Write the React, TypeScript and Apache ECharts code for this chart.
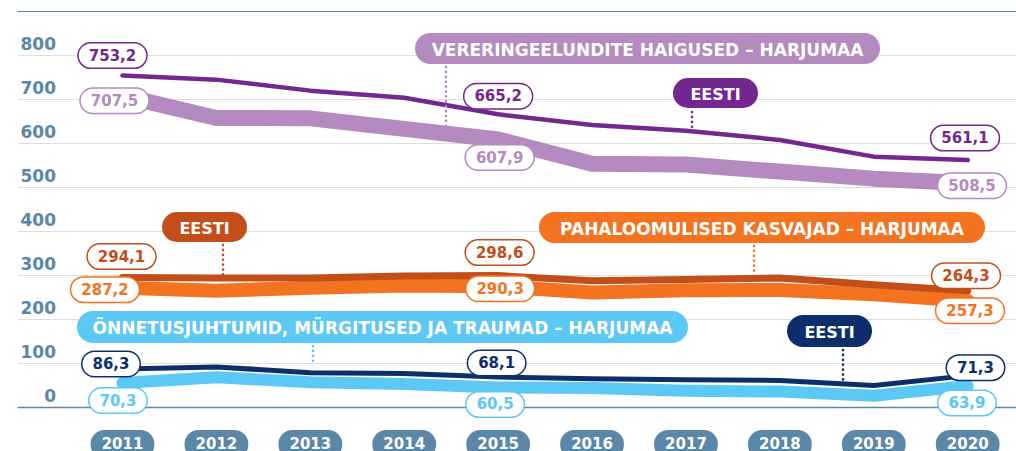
import React, { useEffect, useRef } from "react";
import * as echarts from "echarts";

const years = ["2011", "2012", "2013", "2014", "2015", "2016", "2017", "2018", "2019", "2020"];

// Vereringeelundite haigused (circulatory diseases)
const circulatoryEesti = [753.2, 744, 719, 703, 665.2, 641, 628, 607, 569, 561.1];
const circulatoryHarju = [707.5, 657, 656, 632, 607.9, 553, 551, 535, 519, 508.5];
// Pahaloomulised kasvajad (cancer)
const cancerEesti = [294.1, 293, 293, 298, 298.6, 287, 290, 293, 278, 264.3];
const cancerHarju = [287.2, 280, 287, 292, 290.3, 276, 281, 282, 272, 257.3];
// Õnnetusjuhtumid, mürgitused ja traumad (injuries)
const injuryEesti = [86.3, 91, 78, 76, 68.1, 64, 62, 60.5, 49, 71.3];
const injuryHarju = [70.3, 83.6, 72, 68, 60.5, 59, 53, 51, 41.6, 63.9];

const yMin = 0;
const yMax = 900;
const yStep = 100;

const labelledIdx = [0, 4, 9];

const FONT = "'DejaVu Sans', 'Noto Sans', sans-serif";
const AXIS_BLUE = "#5b87a9";
const GRID_GREY = "#dedede";

const C = {
  purpleDark: "#74278f",
  purpleLight: "#b48ac0",
  orangeDark: "#c24e1a",
  orange: "#f37321",
  navy: "#0c2f6b",
  lightBlue: "#5cc8f5",
};

const fmt = (v: number) => v.toFixed(1).replace(".", ",");

function withLabels(values: number[], color: string, offsets: number[][]) {
  return values.map((v, i) => {
    const k = labelledIdx.indexOf(i);
    if (k < 0) return { value: v };
    return {
      value: v,
      label: {
        show: true,
        position: "inside",
        offset: offsets[k],
        formatter: () => fmt(v),
        color,
        fontFamily: FONT,
        fontWeight: "bold",
        fontSize: 15,
        backgroundColor: "#ffffff",
        borderColor: color,
        borderWidth: 1.5,
        borderRadius: 14,
        padding: [5, 10, 4, 10],
      },
    };
  });
}

function lineSeries(
  name: string,
  values: number[],
  color: string,
  width: number,
  gridIdx: number,
  offsets: number[][]
) {
  return {
    name,
    type: "line",
    xAxisIndex: gridIdx,
    yAxisIndex: gridIdx,
    data: withLabels(values, color, offsets),
    showSymbol: true,
    symbol: "circle",
    symbolSize: 2,
    itemStyle: { color: "rgba(0,0,0,0)", borderWidth: 0 },
    lineStyle: { color, width, cap: "round", join: "round" },
    silent: true,
    z: 2,
  };
}

function pill(x: number, y: number, w: number, h: number, color: string, text: string, fontSize: number) {
  return [
    {
      type: "rect",
      z: 100,
      shape: { x, y, width: w, height: h, r: h / 2 },
      style: { fill: color },
      silent: true,
    },
    {
      type: "text",
      z: 101,
      x: x + w / 2,
      y: y + h / 2 + 1,
      style: {
        text,
        fill: "#ffffff",
        font: `bold ${fontSize}px ${FONT}`,
        textAlign: "center",
        textVerticalAlign: "middle",
        align: "center",
        verticalAlign: "middle",
      },
      silent: true,
    },
  ];
}

function connector(x: number, y1: number, y2: number, color: string) {
  return {
    type: "line",
    z: 99,
    shape: { x1: x, y1, x2: x, y2 },
    style: { stroke: color, lineWidth: 2.6, lineDash: [0.1, 4.8], lineCap: "round" },
    silent: true,
  };
}

export default function App() {
  const ref = useRef<HTMLDivElement>(null);

  useEffect(() => {
    if (!ref.current) return;
    const chart = echarts.init(ref.current, null, { renderer: "svg" });

    const top = 11;
    const height = 396;
    const bandShift = 7;

    const option = {
      animation: false,
      grid: [
        { left: 18, right: 0, top, height, outerBoundsMode: "none", containLabel: false },
        { left: 122.5, right: 48.3, top, height, outerBoundsMode: "none", containLabel: false },
        { left: 122.5, right: 48.3, top: top + bandShift, height, outerBoundsMode: "none", containLabel: false },
      ],
      xAxis: [
        {
          gridIndex: 0,
          type: "category",
          position: "bottom",
          data: years,
          axisLine: { show: true, lineStyle: { color: AXIS_BLUE, width: 1.3 } },
          axisTick: { show: false },
          axisLabel: { show: false },
        },
        {
          gridIndex: 1,
          type: "category",
          boundaryGap: false,
          data: years,
          axisLine: { show: false },
          axisTick: { show: false },
          axisLabel: {
            show: true,
            interval: 0,
            margin: 23,
            color: "#ffffff",
            fontFamily: FONT,
            fontWeight: "bold",
            fontSize: 15,
            backgroundColor: AXIS_BLUE,
            borderRadius: 14,
            padding: [6, 11, 8, 11],
          },
        },
        {
          gridIndex: 2,
          type: "category",
          boundaryGap: false,
          data: years,
          show: false,
        },
        {
          gridIndex: 0,
          type: "category",
          position: "top",
          data: years,
          axisLine: { show: true, lineStyle: { color: AXIS_BLUE, width: 1.1 } },
          axisTick: { show: false },
          axisLabel: { show: false },
        },
      ],
      yAxis: [
        {
          gridIndex: 0,
          type: "value",
          min: yMin,
          max: yMax,
          interval: yStep,
          axisLine: { show: false },
          axisTick: { show: false },
          splitLine: {
            show: true,
            showMinLine: false,
            showMaxLine: false,
            lineStyle: { color: GRID_GREY, width: 1 },
          },
          axisLabel: {
            inside: true,
            showMaxLabel: false,
            margin: 38,
            align: "right",
            verticalAlign: "bottom",
            lineHeight: 20,
            padding: [0, 0, 1, 0],
            color: AXIS_BLUE,
            fontFamily: FONT,
            fontWeight: "bold",
            fontSize: 17,
          },
        },
        { gridIndex: 1, type: "value", min: yMin, max: yMax, interval: yStep, show: false },
        { gridIndex: 2, type: "value", min: yMin, max: yMax, interval: yStep, show: false },
      ],
      series: [
        lineSeries("Vereringeelundite haigused – Harjumaa", circulatoryHarju, C.purpleLight, 16, 1, [
          [-8, 5],
          [1.5, 18],
          [4.3, 2.5],
        ]),
        lineSeries("Pahaloomulised kasvajad – Harjumaa", cancerHarju, C.orange, 14, 2, [
          [-17.5, 2],
          [2, 2.5],
          [2.3, 10],
        ]),
        lineSeries("Õnnetusjuhtumid, mürgitused ja traumad – Harjumaa", injuryHarju, C.lightBlue, 12, 2, [
          [-4.5, 17.5],
          [-3, 17],
          [-0.7, 17],
        ]),
        lineSeries("Vereringeelundite haigused – Eesti", circulatoryEesti, C.purpleDark, 4.5, 1, [
          [-10, -20],
          [0, -18],
          [-2.7, -22],
        ]),
        lineSeries("Pahaloomulised kasvajad – Eesti", cancerEesti, C.orangeDark, 7, 1, [
          [-1, -21],
          [1.5, -23],
          [-1.7, -15],
        ]),
        lineSeries("Õnnetusjuhtumid, mürgitused ja traumad – Eesti", injuryEesti, C.navy, 5, 1, [
          [-11.5, -5],
          [-1.5, -14],
          [7.8, -8],
        ]),
      ],
      graphic: [
        connector(446, 67, 133, C.purpleLight),
        ...pill(415, 33, 465, 31, C.purpleLight, "VERERINGEELUNDITE HAIGUSED – HARJUMAA", 17),
        connector(692, 112, 127, C.purpleDark),
        ...pill(673, 78, 85, 30, C.purpleDark, "EESTI", 16),
        connector(223, 245, 275, C.orangeDark),
        ...pill(162, 212, 85, 30, C.orangeDark, "EESTI", 16),
        connector(754, 246, 273, C.orange),
        ...pill(539, 212, 446, 31, C.orange, "PAHALOOMULISED KASVAJAD – HARJUMAA", 17),
        connector(313, 346, 364, C.lightBlue),
        ...pill(77, 311, 611, 32, C.lightBlue, "ÕNNETUSJUHTUMID, MÜRGITUSED JA TRAUMAD – HARJUMAA", 17),
        connector(843, 350, 380, C.navy),
        ...pill(787, 315, 85, 32, C.navy, "EESTI", 16),
      ],
    };

    chart.setOption(option as any);
    return () => chart.dispose();
  }, []);

  return (
    <div
      ref={ref}
      style={{ position: "fixed", left: 0, top: 0, width: 1016, height: 451, background: "#ffffff" }}
    />
  );
}
